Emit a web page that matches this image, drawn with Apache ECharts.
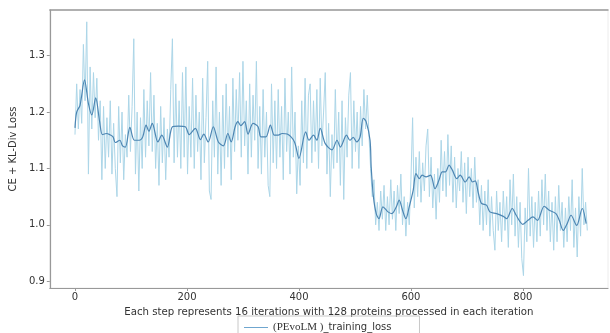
<!DOCTYPE html>
<html>
<head>
<meta charset="utf-8">
<script src="https://cdn.jsdelivr.net/npm/echarts@6/dist/echarts.min.js"></script>
<style>
html,body{margin:0;padding:0;background:#fff;}
#c{width:610px;height:333px;}
</style>
</head>
<body>
<div id="c"></div>
<script>
// raw training loss, one reading every 3 steps (step 0 .. 915)
const rawStepSpacing = 3;
const rawLoss = [
  1.16,1.25,1.17,1.24,1.18,1.32,1.22,1.36,1.09,1.28,
  1.17,1.27,1.19,1.26,1.15,1.22,1.08,1.21,1.10,1.19,
  1.12,1.22,1.09,1.18,1.10,1.05,1.21,1.11,1.20,1.08,
  1.16,1.12,1.23,1.13,1.21,1.33,1.09,1.20,1.06,1.19,
  1.10,1.24,1.12,1.22,1.14,1.27,1.13,1.23,1.10,1.18,
  1.07,1.21,1.11,1.19,1.08,1.17,1.12,1.24,1.33,1.11,
  1.25,1.12,1.22,1.10,1.27,1.12,1.28,1.09,1.21,1.12,
  1.26,1.10,1.23,1.13,1.20,1.08,1.26,1.11,1.19,1.29,
  1.06,1.045,1.22,1.12,1.28,1.09,1.20,1.07,1.23,1.10,
  1.25,1.12,1.21,1.08,1.26,1.13,1.24,1.15,1.27,1.12,
  1.29,1.14,1.22,1.09,1.25,1.12,1.23,1.15,1.29,1.10,
  1.21,1.09,1.24,1.12,1.20,1.07,1.05,1.25,1.11,1.22,
  1.10,1.24,1.12,1.21,1.08,1.26,1.13,1.20,1.09,1.28,
  1.12,1.20,1.055,1.14,1.07,1.22,1.11,1.26,1.10,1.23,
  1.25,1.11,1.22,1.13,1.24,1.10,1.26,1.14,1.20,1.27,
  1.09,1.18,1.05,1.16,1.10,1.24,1.11,1.20,1.07,1.22,
  1.045,1.19,1.12,1.23,1.27,1.10,1.22,1.13,1.20,1.10,
  1.21,1.14,1.24,1.17,1.23,1.16,1.10,1.05,1.08,1.00,
  1.04,0.99,1.06,1.01,1.07,0.99,1.05,1.00,1.08,1.01,
  1.06,0.99,1.07,1.02,1.09,1.00,1.05,0.98,1.04,1.00,
  1.08,1.19,1.03,1.12,1.05,1.13,1.04,1.11,1.06,1.14,
  1.17,1.05,1.12,1.03,1.09,1.01,1.10,1.04,1.15,1.06,
  1.13,1.05,1.16,1.07,1.14,1.04,1.12,1.03,1.10,1.06,
  1.13,1.04,1.11,1.02,1.12,1.05,1.10,1.03,1.12,1.04,
  1.08,1.00,1.07,0.99,1.06,1.00,1.08,0.98,1.05,0.99,
  0.955,1.06,0.99,1.04,0.97,1.06,0.99,1.05,0.96,1.08,
  1.00,1.09,0.98,1.05,0.96,1.04,0.94,0.91,1.03,0.97,
  1.10,0.98,1.05,0.96,1.04,0.97,1.06,0.98,1.08,1.00,
  1.09,0.99,1.06,0.97,1.04,0.955,1.05,0.97,1.07,0.99,
  1.04,0.96,1.03,0.97,1.05,0.99,1.08,0.96,1.03,0.943,
  1.05,0.98,1.10,1.00,1.04,0.99
];

// smoothed curve, read at irregular steps
const smoothSteps = [
  0,3,9,17,24,30,37,44,49,56,62,68,72,80,85,90,98,106,115,121,127,132,138,
  148,155,165,174,185,197,204,215,224,230,238,247,256,265,273,279,286,291,
  296,303,309,318,327,332,341,349,356,363,370,379,392,400,412,418,426,432,
  438,447,459,468,474,485,491,497,503,509,515,520,527,529,533,538,543,550,
  559,566,574,579,585,591,597,604,609,615,620,627,635,643,650,656,662,668,
  674,682,688,697,704,710,715,720,726,735,741,753,765,771,781,788,800,809,
  818,826,838,847,859,865,872,879,886,896,906,913
];
const smoothLoss = [
  1.172,1.200,1.212,1.257,1.215,1.195,1.225,1.183,1.160,1.162,1.160,1.156,1.146,1.150,1.140,1.138,1.173,1.150,1.150,1.156,1.177,1.166,1.180,
  1.147,1.159,1.138,1.174,1.175,1.174,1.160,1.171,1.151,1.161,1.147,1.174,1.147,1.140,1.162,1.147,1.174,1.183,
  1.176,1.183,1.161,1.180,1.174,1.156,1.156,1.177,1.159,1.159,1.162,1.161,1.147,1.118,1.165,1.150,1.159,1.150,
  1.171,1.144,1.133,1.150,1.138,1.159,1.150,1.155,1.147,1.155,1.189,1.183,1.150,1.103,1.050,1.020,1.011,1.032,
  1.023,1.020,1.032,1.044,1.026,1.011,1.032,1.061,1.091,1.082,1.088,1.085,1.088,1.064,1.079,1.094,1.094,1.106,
  1.097,1.082,1.088,1.076,1.085,1.076,1.078,1.058,1.038,1.035,1.023,1.020,1.015,1.011,1.029,1.017,1.001,1.008,
  1.014,1.008,1.033,1.026,1.020,1.008,0.990,1.002,1.017,0.999,1.029,1.002
];

const xTicks = [0, 200, 400, 600, 800];
const yTicks = [0.9, 1.0, 1.1, 1.2, 1.3];
const seriesName = '(PEvoLM )_training_loss';
const xTitle = 'Each step represents 16 iterations with 128 proteins processed in each iteration';
const yTitle = 'CE + KL-Div Loss';

const rawData = rawLoss.map((v, i) => [i * rawStepSpacing, v]);
const smoothData = smoothSteps.map((s, i) => [s, smoothLoss[i]]);

const chart = echarts.init(document.getElementById('c'), null, {renderer: 'canvas'});
const font = 'DejaVu Sans';
chart.setOption({
  animation: false,
  backgroundColor: '#fff',
  grid: {left: 43, top: 10, right: 2, bottom: 45, show: true, borderColor: '#ececec', borderWidth: 1},
  legend: {
    data: [{name: seriesName, icon: 'rect', itemStyle: {color: '#6fa6cf'}}],
    left: 238, top: 316,
    itemWidth: 24, itemHeight: 1,
    itemGap: 6,
    padding: [6, 28, 6, 6],
    borderColor: '#c8c8c8', borderWidth: 1, borderRadius: 0,
    formatter: () => '{s|(PEvoLM )}{t|_training_loss}',
    textStyle: {
      rich: {
        s: {fontFamily: 'Liberation Serif', fontSize: 11, color: '#333'},
        t: {fontFamily: font, fontSize: 10, color: '#333'}
      }
    }
  },
  xAxis: [{
    type: 'value', min: -45, max: 952,
    name: xTitle, nameLocation: 'middle', nameGap: 17,
    nameTextStyle: {fontFamily: font, fontSize: 10.2, color: '#333'},
    axisLine: {show: true, onZero: false, lineStyle: {color: '#999', width: 1.2}},
    axisTick: {show: true, length: 3, customValues: xTicks, lineStyle: {color: '#999'}},
    axisLabel: {customValues: xTicks, fontFamily: font, fontSize: 10, color: '#333', margin: 4},
    splitLine: {show: false}
  }, {
    type: 'value', min: -45, max: 952, position: 'top',
    axisLine: {show: true, onZero: false, lineStyle: {color: '#999', width: 1.5}},
    axisTick: {show: false}, axisLabel: {show: false}, splitLine: {show: false}
  }],
  yAxis: {
    type: 'value', min: 0.888, max: 1.381,
    name: yTitle, nameLocation: 'middle', nameGap: 27, nameRotate: 90,
    nameTextStyle: {fontFamily: font, fontSize: 10, color: '#333'},
    axisLine: {show: true, onZero: false, lineStyle: {color: '#999', width: 1.2}},
    axisTick: {show: true, length: 3, customValues: yTicks, lineStyle: {color: '#999'}},
    axisLabel: {customValues: yTicks, fontFamily: font, fontSize: 10, color: '#333', margin: 5,
      formatter: v => v.toFixed(1)},
    splitLine: {show: false}
  },
  series: [{
    name: seriesName, type: 'line', data: rawData, showSymbol: false, symbol: 'none',
    lineStyle: {color: '#acd6e8', width: 1}, itemStyle: {color: '#6fa6cf'}, z: 2
  }, {
    name: 'smoothed', type: 'line', data: smoothData, showSymbol: false, symbol: 'none',
    smooth: 0.3,
    lineStyle: {color: '#4d86b3', width: 1.2}, z: 3
  }]
});
</script>
</body>
</html>
